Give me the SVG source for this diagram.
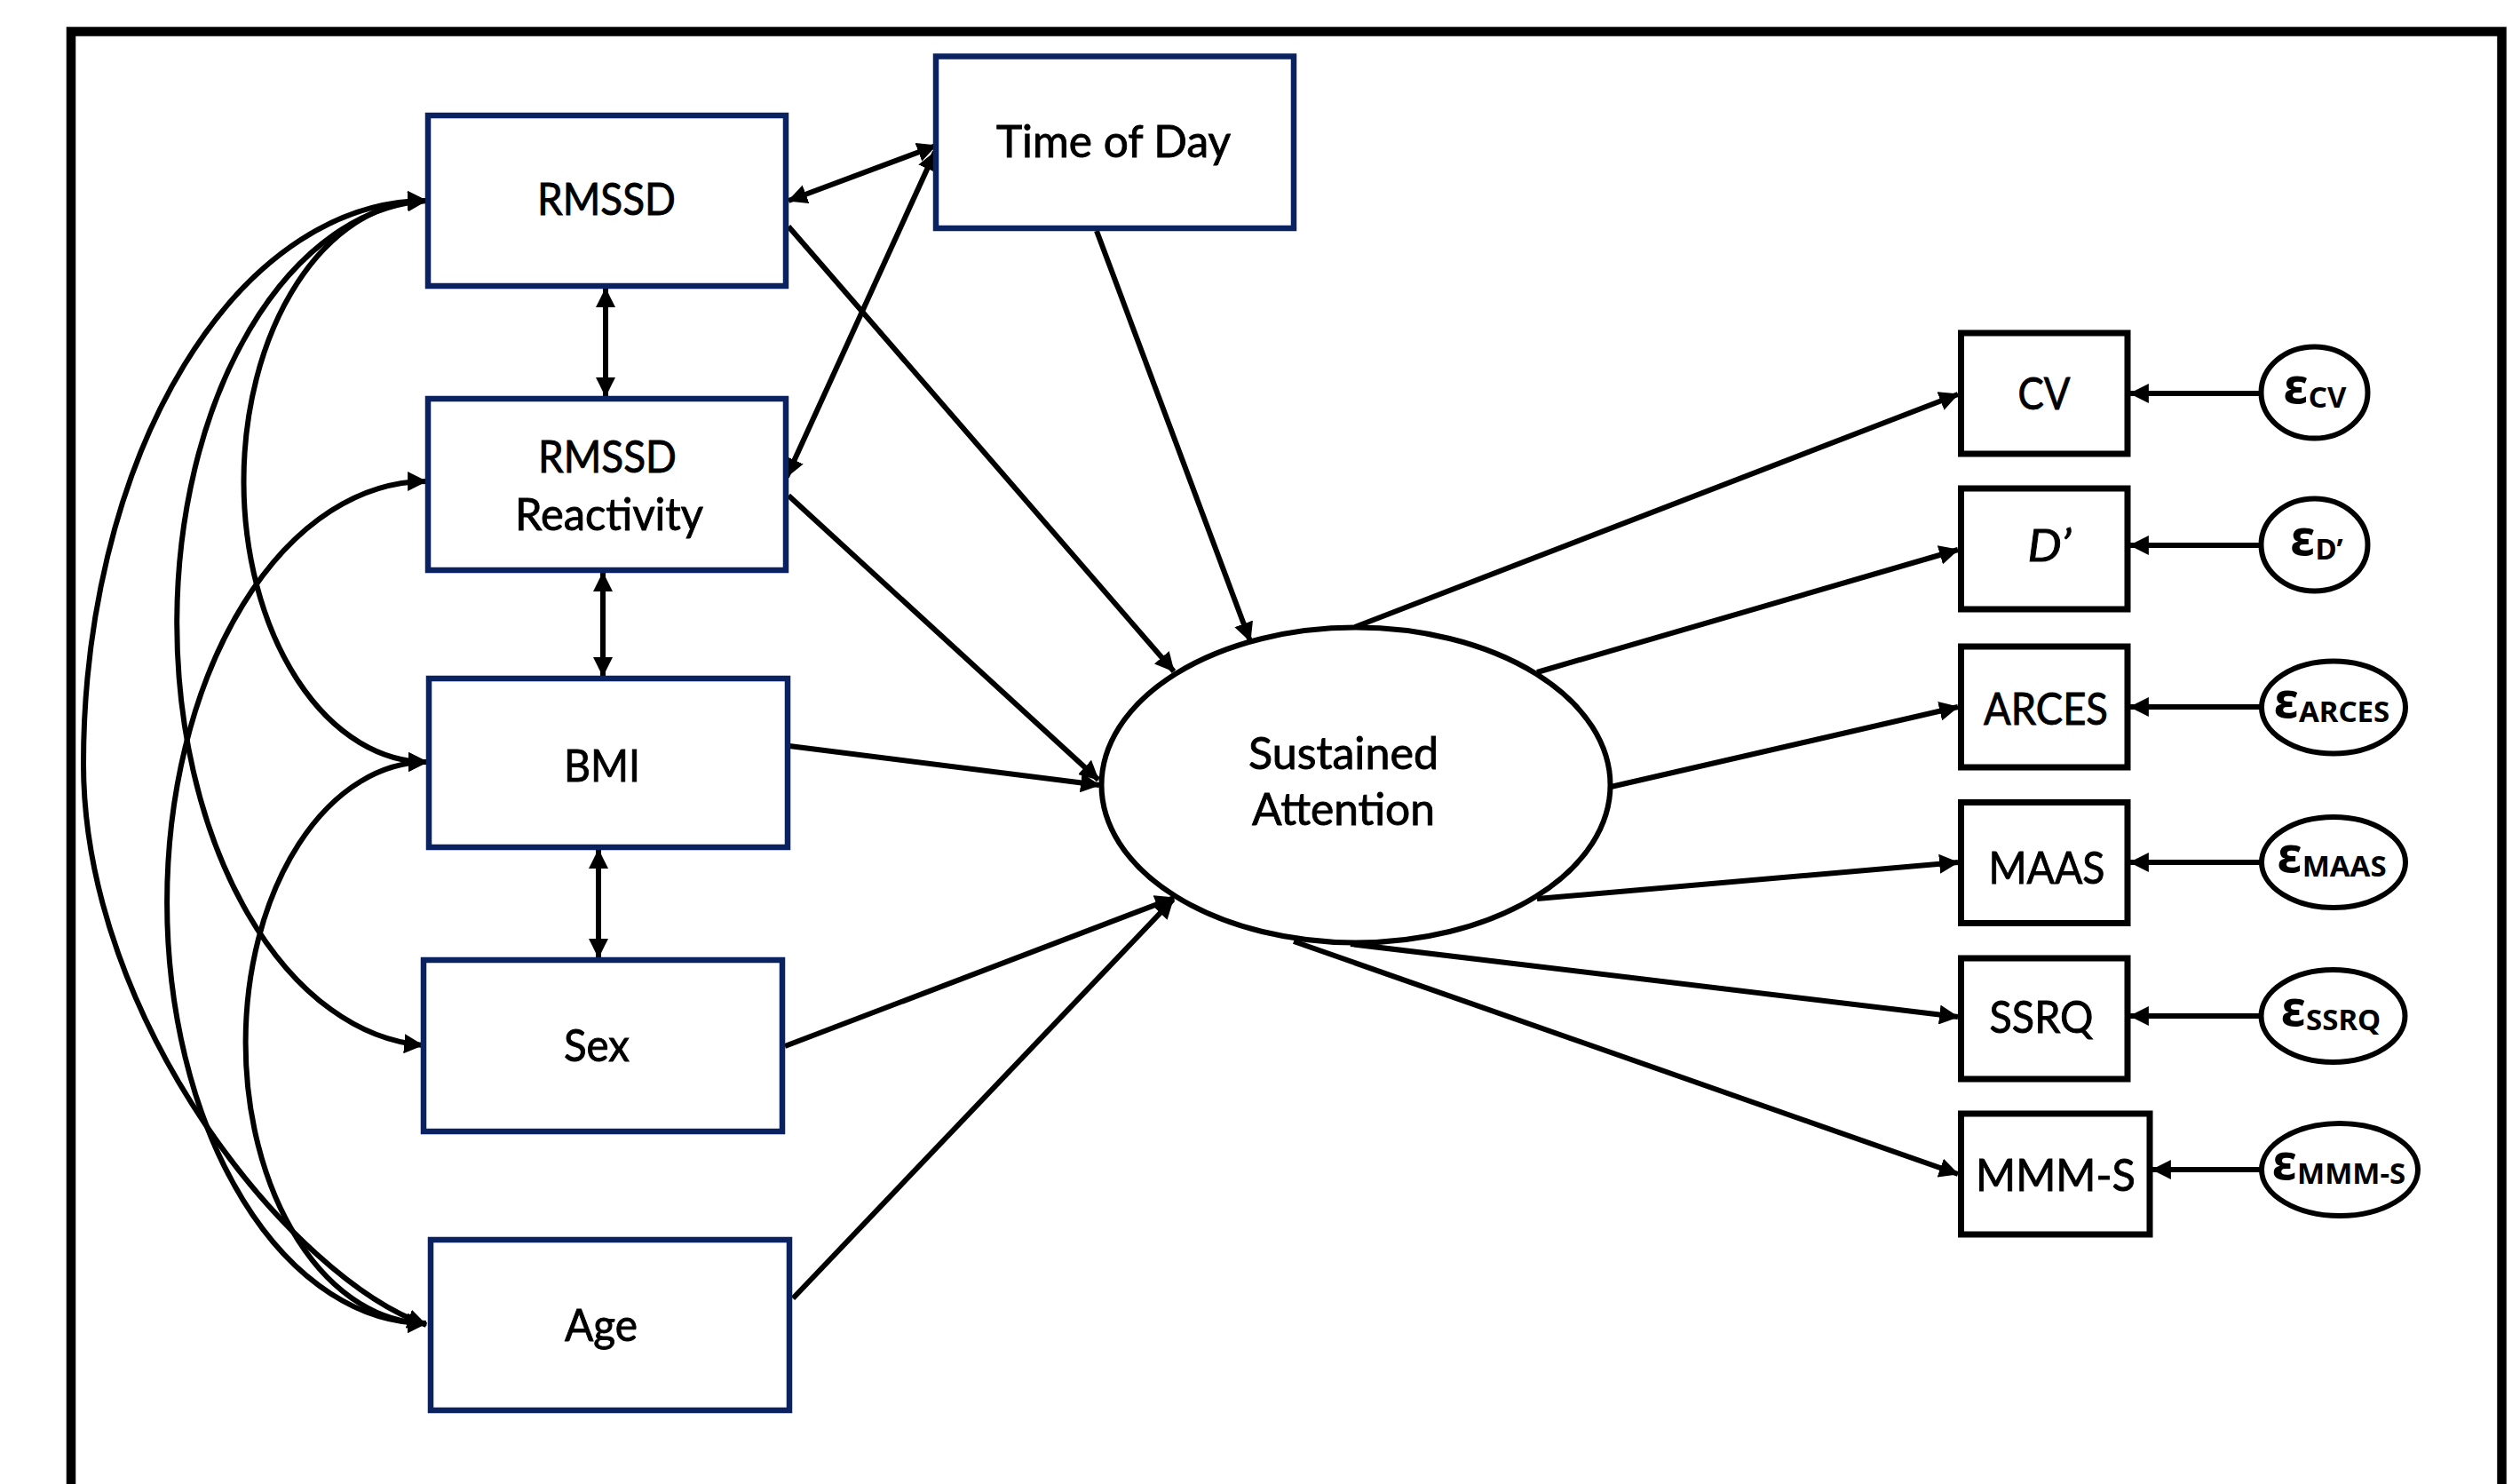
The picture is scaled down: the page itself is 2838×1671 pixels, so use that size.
<svg xmlns="http://www.w3.org/2000/svg" width="2838" height="1671" viewBox="0 0 2838 1671">
<style>
.bx{fill:#fff;stroke:#0a2360;stroke-width:6.5}
.bk{fill:#fff;stroke:#000;stroke-width:7}
.el{fill:#fff;stroke:#000;stroke-width:6}
.lb{font-family:Lato,"Liberation Sans",sans-serif;font-size:50px;fill:#000;stroke:#000;stroke-width:0.9;text-anchor:middle}
.it{font-style:italic}
.ep{font-family:"Noto Sans","DejaVu Sans",sans-serif;font-weight:bold;fill:#000;text-anchor:middle}
.e1{font-size:56px}
.e2{font-size:33px}
.c{fill:none;stroke:#000;stroke-width:6}
.s{marker-end:url(#ah)}
.d{marker-start:url(#ah);marker-end:url(#ah)}
</style>
<defs>
<marker id="ah" viewBox="0 0 20 20" refX="19" refY="10" markerWidth="22" markerHeight="22" markerUnits="userSpaceOnUse" orient="auto-start-reverse"><path d="M0,0 L20,10 L0,20 z" fill="#000"/></marker>
</defs>
<rect width="2838" height="1671" fill="#fff"/>
<path d="M80,1690 V35.5 H2817.5 V1690" fill="none" stroke="#000" stroke-width="10.5"/>

<g id="connectors">
<path class="c d" d="M480,226 A386,634 0 0 0 94,860 C94,1150 330,1440 480,1492"/>
<path class="c d" d="M480,226 A292,476 0 0 0 476,1177"/>
<path class="c d" d="M480,226 A206,316 0 0 0 481,858"/>
<path class="c d" d="M480,542 A292,474 0 0 0 480,1490"/>
<path class="c d" d="M481,858 A204,316 0 0 0 480,1490"/>
<path class="c d" d="M682,325 V446"/>
<path class="c d" d="M679,645 V761"/>
<path class="c d" d="M674,957 V1078"/>
<path class="c d" d="M888,226 L1054,164"/>
<path class="c d" d="M886,537 L1053,171"/>
<path class="c s" d="M888,255 L1322,756"/>
<path class="c s" d="M888,558 L1237,878"/>
<path class="c s" d="M889,840 L1238,884"/>
<path class="c s" d="M884,1178 L1322,1011"/>
<path class="c s" d="M893,1462 L1321,1013"/>
<path class="c s" d="M1235,260 L1408,722"/>
<path class="c s" d="M1526,706 L2205,444"/>
<path class="c s" d="M1731,757 L2205,619"/>
<path class="c s" d="M1814,886 L2205,796"/>
<path class="c s" d="M1731,1012 L2205,971"/>
<path class="c s" d="M1521,1063 L2205,1145"/>
<path class="c s" d="M1457,1060 L2205,1322"/>
<path class="c s" d="M2546,443 H2399"/>
<path class="c s" d="M2546,614 H2399"/>
<path class="c s" d="M2546,796 H2399"/>
<path class="c s" d="M2546,971 H2399"/>
<path class="c s" d="M2546,1144 H2399"/>
<path class="c s" d="M2546,1317 H2424"/>
</g>

<g id="rmssd"><rect class="bx" x="482" y="130" width="403" height="192"/><text class="lb" x="683" y="242" textLength="156" lengthAdjust="spacingAndGlyphs">RMSSD</text></g>
<g id="rmssd-reactivity"><rect class="bx" x="482" y="449" width="403" height="193"/><text class="lb" x="684" y="532" textLength="156" lengthAdjust="spacingAndGlyphs">RMSSD</text><text class="lb" x="686" y="597" textLength="212" lengthAdjust="spacingAndGlyphs">Reactivity</text></g>
<g id="bmi"><rect class="bx" x="483" y="764" width="404" height="190"/><text class="lb" x="678" y="880" textLength="86" lengthAdjust="spacingAndGlyphs">BMI</text></g>
<g id="sex"><rect class="bx" x="477" y="1081" width="404" height="193"/><text class="lb" x="672" y="1195" textLength="74" lengthAdjust="spacingAndGlyphs">Sex</text></g>
<g id="age"><rect class="bx" x="485" y="1396" width="404" height="192"/><text class="lb" x="677" y="1510" textLength="82" lengthAdjust="spacingAndGlyphs">Age</text></g>
<g id="time-of-day"><rect class="bx" x="1054" y="63.5" width="403" height="193.5"/><text class="lb" x="1254" y="177" textLength="264" lengthAdjust="spacingAndGlyphs">Time of Day</text></g>
<g id="sustained-attention"><ellipse class="el" cx="1527" cy="884" rx="286.5" ry="177.5"/><text class="lb" x="1513" y="866" textLength="214" lengthAdjust="spacingAndGlyphs">Sustained</text><text class="lb" x="1513" y="929" textLength="206" lengthAdjust="spacingAndGlyphs">Attention</text></g>

<g id="cv"><rect class="bk" x="2208.5" y="375" width="187.5" height="136"/><text class="lb" x="2302" y="461" textLength="59" lengthAdjust="spacingAndGlyphs">CV</text></g>
<g id="dprime"><rect class="bk" x="2208.5" y="550" width="187.5" height="136"/><text class="lb it" x="2308" y="632" textLength="49" lengthAdjust="spacingAndGlyphs">D’</text></g>
<g id="arces"><rect class="bk" x="2208.5" y="728" width="187.5" height="136"/><text class="lb" x="2304" y="816" textLength="140" lengthAdjust="spacingAndGlyphs">ARCES</text></g>
<g id="maas"><rect class="bk" x="2208.5" y="903.5" width="187.5" height="136"/><text class="lb" x="2305" y="995" textLength="131" lengthAdjust="spacingAndGlyphs">MAAS</text></g>
<g id="ssrq"><rect class="bk" x="2208.5" y="1079" width="187.5" height="136"/><text class="lb" x="2299" y="1163" textLength="117" lengthAdjust="spacingAndGlyphs">SSRQ</text></g>
<g id="mmms"><rect class="bk" x="2208.5" y="1254" width="212.5" height="136"/><text class="lb" x="2315" y="1341" textLength="180" lengthAdjust="spacingAndGlyphs">MMM-S</text></g>

<g id="e-cv"><ellipse class="el" cx="2606.5" cy="442" rx="60" ry="51.5"/><text class="ep" x="2607" y="454"><tspan class="e1">ε</tspan><tspan class="e2" dy="5">CV</tspan></text></g>
<g id="e-dprime"><ellipse class="el" cx="2606.5" cy="613.5" rx="60" ry="52"/><text class="ep" x="2609" y="625"><tspan class="e1">ε</tspan><tspan class="e2" dy="5">D’</tspan></text></g>
<g id="e-arces"><ellipse class="el" cx="2628" cy="796.5" rx="81" ry="52"/><text class="ep" x="2626" y="808"><tspan class="e1">ε</tspan><tspan class="e2" dy="5">ARCES</tspan></text></g>
<g id="e-maas"><ellipse class="el" cx="2628" cy="971" rx="81" ry="51"/><text class="ep" x="2626" y="982"><tspan class="e1">ε</tspan><tspan class="e2" dy="5">MAAS</tspan></text></g>
<g id="e-ssrq"><ellipse class="el" cx="2627.5" cy="1144" rx="81" ry="52"/><text class="ep" x="2625" y="1155"><tspan class="e1">ε</tspan><tspan class="e2" dy="5">SSRQ</tspan></text></g>
<g id="e-mmms"><ellipse class="el" cx="2635" cy="1317" rx="88" ry="52"/><text class="ep" x="2634" y="1328"><tspan class="e1">ε</tspan><tspan class="e2" dy="5">MMM-S</tspan></text></g>
</svg>
